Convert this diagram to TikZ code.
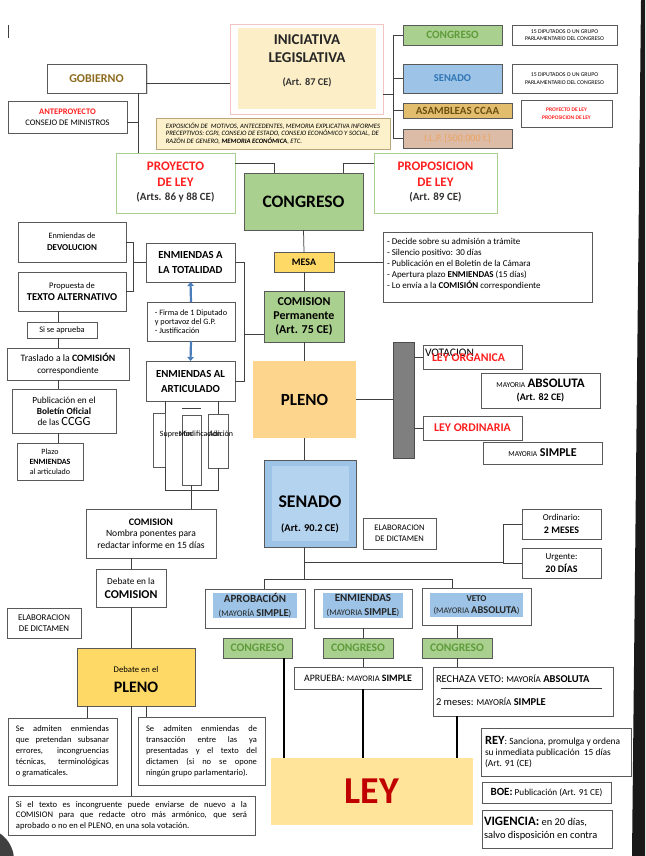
\documentclass[tikz,border=0pt]{standalone}
\usepackage{fontspec}
\setmainfont{Carlito}
\usetikzlibrary{calc,arrows.meta,shadows}
\definecolor{grnF}{HTML}{A9D08E}
\definecolor{grnT}{HTML}{5E9B3A}
\definecolor{grnB}{HTML}{A9D08E}
\definecolor{bluF}{HTML}{9DC3E6}
\definecolor{bluIn}{HTML}{B4D3EE}
\definecolor{bluT}{HTML}{2E75B6}
\definecolor{asmF}{HTML}{E3BD6E}
\definecolor{asmT}{HTML}{6B4F10}
\definecolor{ilpF}{HTML}{DCBCA6}
\definecolor{ilpT}{HTML}{EDA35F}
\definecolor{wheatF}{HTML}{FCEEC6}
\definecolor{pinkB}{HTML}{F2C4C4}
\definecolor{expoF}{HTML}{FDF1CB}
\definecolor{expoB}{HTML}{BBA57A}
\definecolor{redT}{HTML}{FF1F1F}
\definecolor{goldT}{HTML}{8C6B1E}
\definecolor{mesaF}{HTML}{FFD966}
\definecolor{plenoF}{HTML}{FED58D}
\definecolor{leyF}{HTML}{FFE49A}
\definecolor{leyT}{HTML}{C00000}
\definecolor{barF}{HTML}{7F7F7F}
\definecolor{bdr}{HTML}{595959}
\definecolor{lnc}{HTML}{404040}
\definecolor{arrB}{HTML}{4A7EBB}
\newcommand{\fsz}[2]{\fontsize{#1}{#2}\selectfont}
\newcommand{\bx}[7]{\node[box,#6,minimum width={(#4)-(#2)},minimum height={(#5)-(#3)}] (#1) at ({((#2)+(#4))/2},{((#3)+(#5))/2}) {#7};}
\begin{document}
\begin{tikzpicture}[x=1pt,y=-1pt,
  box/.style={draw=bdr,line width=0.75pt,fill=white,inner sep=0pt,outer sep=0pt,align=center},
  txt/.style={inner sep=0pt,outer sep=0pt,align=center},
  conn/.style={draw=lnc,line width=0.75pt},
  thk/.style={draw=black,line width=1.7pt},
  barr/.style={draw=arrB,line width=2.2pt,-{Triangle[length=4pt,width=6.5pt]}}]
\fill[white] (0,0) rectangle (645,856);
\useasboundingbox (0,0) rectangle (645,856);
% page edge decorations
\fill[black!90] (641,0) -- (645,0) -- (645,856) -- (632,856) -- cycle;
\fill[black!75] (-18,860) circle (32);
\draw[lnc,line width=0.8pt] (8,25) -- (8,38);

% ---------- top ----------
\bx{ini}{230}{24}{383}{114}{draw=pinkB}{}
\bx{inii}{238}{28}{376}{109}{draw=none,fill=wheatF}{}
\node[txt,font=\bfseries\fsz{15}{17},text=black!85] (ini1) at (307,40) {INICIATIVA};
\node[txt,font=\bfseries\fsz{15}{17},text=black!85] (ini2) at (307,58) {LEGISLATIVA};
\node[txt,font=\bfseries\fsz{10.3}{11},text=black!80] (ini3) at (307,82) {(Art. 87 CE)};

\bx{gob}{47}{64}{146}{93}{drop shadow={shadow xshift=1.5pt,shadow yshift=-1.5pt,opacity=0.3},font=\bfseries\fsz{12}{14},text=goldT}{GOBIERNO}
\bx{ante}{8}{101}{127}{133}{font=\fsz{8.5}{11}}{{\bfseries\color{redT}ANTEPROYECTO}\\CONSEJO DE MINISTROS}
\bx{expo}{156}{118}{390}{149}{draw=expoB,fill=expoF,font=\itshape\fsz{6.7}{7.7},align=left}{EXPOSICIÓN DE\ \ MOTIVOS, ANTECEDENTES, MEMORIA EXPLICATIVA INFORMES\\PRECEPTIVOS: CGPJ, CONSEJO DE ESTADO, CONSEJO ECONÓMICO Y SOCIAL, DE\\RAZÓN DE GENERO, \textbf{MEMORIA ECONÓMICA}, ETC.}

\bx{proy}{116}{153}{235}{213}{draw=grnB}{}
\node[txt,font=\bfseries\fsz{13}{15},text=redT] (proy1) at (175.5,166) {PROYECTO};
\node[txt,font=\bfseries\fsz{13}{15},text=redT] (proy2) at (175.5,182) {DE LEY};
\node[txt,font=\bfseries\fsz{11}{12},text=black!80] (proy3) at (175.5,197) {(Arts. 86 y 88 CE)};
\bx{propo}{374}{153}{497}{213}{draw=grnB}{}
\node[txt,font=\bfseries\fsz{13}{15},text=redT] (propo1) at (435.5,166) {PROPOSICION};
\node[txt,font=\bfseries\fsz{13}{15},text=redT] (propo2) at (435.5,182) {DE LEY};
\node[txt,font=\bfseries\fsz{11}{12},text=black!80] (propo3) at (435.5,197) {(Art. 89 CE)};
\bx{cong}{244}{173}{363}{230}{fill=grnF,font=\bfseries\fsz{17.5}{20}}{CONGRESO}

\bx{cg}{403}{25}{502}{45}{fill=grnF,font=\bfseries\fsz{11.2}{12},text=grnT}{CONGRESO}
\bx{sn}{403}{64}{502}{93}{fill=bluF,font=\bfseries\fsz{10.5}{12},text=bluT}{SENADO}
\bx{asm}{403}{103}{512}{118}{fill=asmF,font=\bfseries\fsz{11}{12},text=asmT}{ASAMBLEAS CCAA}
\bx{ilp}{403}{129}{512}{148}{fill=ilpF,font=\fsz{10}{12},text=ilpT}{I.L.P. [500.000 f.]}
\bx{i1}{512}{25}{617}{45}{font=\fsz{5.8}{7.5}}{15 DIPUTADOS O UN GRUPO\\PARLAMENTARIO DEL CONGRESO}
\bx{i2}{512}{64}{617}{93}{font=\fsz{5.8}{7.5}}{15 DIPUTADOS O UN GRUPO\\PARLAMENTARIO DEL CONGRESO}
\bx{i3}{521}{100}{612}{127}{font=\bfseries\fsz{5.5}{7.5},text=redT}{PROYECTO DE LEY\\PROPOSICION DE LEY}

\coordinate (gv) at ([xshift=-8pt]gob.south east);
\coordinate (ge) at ([yshift=-4.5pt]gob.east);
\draw[conn] (ge) -- (ge -| ini.west);
\draw[conn] (gv) -- (gv |- proy.north);
\coordinate (ae) at ([yshift=-5pt]ante.east);
\draw[conn] (ae) -- (ae -| gv);
\draw[conn] ([yshift=-10pt]proy.north east) -| ([xshift=30pt]cong.north west);
\draw[conn] ([yshift=-10pt]propo.north west) -| ([xshift=-20pt]cong.north east);
\coordinate (rs) at ($(ini.east)+(10,25)$);
\draw[conn] ([yshift=-25pt]ini.east) -- (rs);
\draw[conn] (cg.west -| rs) -- (ilp.west -| rs);
\draw[conn] (cg.west -| rs) -- (cg.west);
\draw[conn] (sn.west -| rs) -- (sn.west);
\draw[conn] (asm.west -| rs) -- (asm.west);
\draw[conn] (ilp.west -| rs) -- (ilp.west);

% ---------- left column ----------
\bx{dev}{18}{222}{126}{262}{font=\fsz{8.2}{12}}{Enmiendas de\\\textbf{\fsz{9}{12}DEVOLUCION}}
\bx{txa}{18}{272}{126}{311}{font=\fsz{8.5}{12.5}}{Propuesta de\\\textbf{\fsz{10.5}{12.5}TEXTO ALTERNATIVO}}
\bx{sap}{27}{322}{97}{338}{font=\fsz{8.4}{9}}{Si se aprueba}
\bx{tras}{7}{348}{129}{380}{font=\fsz{9.8}{11.5}}{Traslado a la \textbf{COMISIÓN}\\{\fsz{9.2}{11.5}correspondiente}}
\bx{pub}{12}{389}{116}{433}{font=\fsz{9.3}{11}}{Publicación en el\\\textbf{Boletín Oficial}\\de las {\fsz{12.5}{11}CCGG}}
\bx{plz}{17}{443}{83}{480}{font=\fsz{8}{10}}{Plazo\\\textbf{ENMIENDAS}\\al articulado}
\coordinate (lc) at ([xshift=-4pt]sap.north);
\draw[conn] (txa.south -| lc) -- (sap.north -| lc);
\draw[conn] (sap.south -| lc) -- (tras.north -| lc);
\draw[conn] (tras.south -| lc) -- (pub.north -| lc);
\draw[conn] (pub.south -| lc) -- (plz.north -| lc);

% ---------- enmiendas column ----------
\bx{ea}{146}{243}{235}{282}{font=\bfseries\fsz{10.8}{15}}{ENMIENDAS A\\LA TOTALIDAD}
\bx{fir}{147}{302}{235}{341}{font=\fsz{8.2}{8.7},align=left}{- Firma de 1 Diputado\\y portavoz del G.P.\\- Justificación}
\bx{eal}{146}{361}{235}{401}{font=\bfseries\fsz{10.8}{15}}{ENMIENDAS AL\\ARTICULADO}
\draw[barr] (fir.north) -- (ea.south);
\draw[barr] (fir.south) -- (eal.north);
\coordinate (lb) at ($(dev.east)+(7,0)$);
\draw[conn] (dev.east) -- (lb) |- (txa.east);
\draw[conn] (ea.west) -- (ea.west -| lb);
\coordinate (brk) at ($(ea.east)+(9,0)$);
\draw[conn] (ea.east) -- (brk) |- (eal.east);

\bx{sup}{153}{413}{165}{467}{}{}
\bx{mod}{182}{415}{201}{485}{}{}
\bx{adi}{208}{414}{228}{468}{}{}
\node[txt,font=\fsz{8}{8}] (lsup) at (176,434) {Supresión};
\node[txt,font=\fsz{8}{8}] (lmod) at (200,434) {Modificación};
\node[txt,font=\fsz{8}{8}] (ladi) at (221,434) {Adición};
\draw[conn] (sup.north east) -- (sup.north east |- eal.south);
\draw[conn] (adi.north) -- (adi.north |- eal.south);
\draw[conn] ([yshift=7pt]mod.north west) -- ([yshift=7pt]mod.north east);
\draw[conn] (sup.south east) -- ++(0,23) -| (adi.south);

\bx{com}{86}{509}{216}{558}{font=\fsz{9.6}{11.5}}{\textbf{\fsz{10}{11.5}COMISION}\\Nombra ponentes para\\redactar informe en 15 días}
\draw[conn] (mod.south) -- (mod.south |- com.north);
\bx{dcom}{96}{569}{166}{607}{font=\fsz{9.3}{14}}{Debate en la\\\textbf{\fsz{12}{14}COMISION}}
\draw[conn] (dcom.north) -- (dcom.north |- com.south);
\bx{el1}{7}{608}{81}{638}{font=\fsz{8.8}{11}}{ELABORACION\\DE DICTAMEN}
\bx{dpl}{77}{648}{195}{706}{fill=mesaF}{}
\node[txt,font=\fsz{8.7}{9}] (dpl1) at (136,670) {Debate en el};
\node[txt,font=\bfseries\fsz{16}{18}] (dpl2) at (136,687) {PLENO};
\draw[conn] (dcom.south) -- (dcom.south |- dpl.north);

\bx{pa}{8}{718}{117}{785}{font=\fsz{8.5}{11},align=left}{\makebox[93pt][s]{Se admiten enmiendas}\\\makebox[93pt][s]{que pretendan subsanar}\\\makebox[93pt][s]{errores, incongruencias}\\\makebox[93pt][s]{técnicas, terminológicas}\\o gramaticales.}
\bx{pb}{138}{717}{265}{785}{font=\fsz{8.5}{11},align=left}{\makebox[111pt][s]{Se admiten enmiendas de}\\\makebox[111pt][s]{transacción entre las ya}\\\makebox[111pt][s]{presentadas y el texto del}\\\makebox[111pt][s]{dictamen (si no se opone}\\ningún grupo parlamentario).}
\bx{pc}{8}{796}{255}{835}{font=\fsz{8.6}{10.7},align=left}{\makebox[231pt][s]{Si el texto es incongruente puede enviarse de nuevo a la}\\\makebox[231pt][s]{COMISION para que redacte otro más armónico, que será}\\aprobado o no en el PLENO, en una sola votación.}
\coordinate (pa1) at ([xshift=79pt]pa.north west);
\coordinate (pb1) at ([xshift=8pt]pb.north west);
\draw[conn] (pa1) -- (pa1 |- dpl.south);
\draw[conn] (pb1) -- (pb1 |- dpl.south);
\draw[conn] (pc.north) -- (pc.north |- dpl.south);

% ---------- main column ----------
\bx{mesa}{274}{252}{334}{272}{fill=mesaF,font=\bfseries\fsz{10}{12}}{MESA}
\bx{inf}{383}{232}{592}{302}{}{}
\node[txt,anchor=west,align=left,font=\fsz{9}{11}] (inft) at ([xshift=4pt,yshift=3pt]inf.west) {- Decide sobre su admisión a trámite\\- Silencio positivo: 30 días\\- Publicación en el Boletín de la Cámara\\- Apertura plazo \textbf{ENMIENDAS} (15 días)\\- Lo envía a la \textbf{COMISIÓN} correspondiente};
\bx{comp}{264}{291}{344}{342}{fill=grnF,font=\bfseries\fsz{12}{14}}{COMISION\\Permanente\\(Art. 75 CE)}
\bx{pleno}{253}{361}{356}{438}{draw=none,fill=plenoF,font=\bfseries\fsz{17}{20}}{PLENO}
\draw[conn] (cong.south) -- (mesa.north);
\draw[conn] (mesa.east) -- (mesa.east -| inf.west);
\draw[conn] (mesa.south) -- (comp.north);
\draw[conn] (comp.south) -- (comp.south |- pleno.north);
\draw[conn] ([yshift=-18pt]comp.west) -- ([yshift=-18pt]comp.west -| brk);

\bx{gbar}{393}{342}{414}{458}{fill=barF,draw=black!70}{}
\bx{lo}{423}{345}{522}{369}{}{}
\node[txt,anchor=west,font=\fsz{11.5}{12}] (vot) at (425,353) {VOTACION};
\node[txt,anchor=west,font=\bfseries\fsz{11.8}{12},text=redT] (lot) at (432,358) {LEY ORGANICA};
\bx{mabs}{481}{373}{600}{408}{font=\bfseries\fsz{10}{13}}{{\mdseries\fsz{7.5}{13}MAYORIA} {\fsz{13}{13}ABSOLUTA}\\(Art. 82 CE)}
\bx{lord}{423}{416}{522}{440}{font=\bfseries\fsz{11.8}{12},text=redT}{LEY ORDINARIA}
\bx{msim}{483}{442}{602}{464}{font=\bfseries\fsz{12}{12}}{{\mdseries\fsz{7.5}{12}MAYORIA} SIMPLE}
\draw[conn] (pleno.east) -- (pleno.east -| gbar.west);
\draw[conn] (lo.west -| gbar.east) -- (lo.west);
\draw[conn] (lord.west -| gbar.east) -- (lord.west);

% ---------- senado ----------
\bx{sen}{264}{460}{356}{547}{fill=bluF}{}
\bx{seni}{272}{466}{349}{541}{draw=none,fill=bluIn}{}
\node[txt,font=\bfseries\fsz{17.8}{20}] (sent) at (310,502) {SENADO};
\node[txt,font=\bfseries\fsz{10.4}{11}] (sena) at (310,528) {(Art. 90.2 CE)};
\draw[conn] (pleno.south) -- (pleno.south |- sen.north);
\bx{el2}{363}{518}{436}{549}{font=\fsz{8.5}{11}}{ELABORACION\\DE DICTAMEN}
\bx{ord}{522}{509}{601}{539}{font=\fsz{9}{13}}{Ordinario:\\\textbf{\fsz{10}{13}2 MESES}}
\bx{urg}{522}{548}{601}{578}{font=\fsz{9}{13}}{Urgente:\\\textbf{\fsz{10}{13}20 DÍAS}}
\coordinate (rb) at ($(ord.west)+(-19,0)$);
\draw[conn] (ord.west) -- (rb) |- (urg.west);
\coordinate (sv) at (sen.south -| pleno.south);
\coordinate (sj) at ($(sv)+(0,15)$);
\coordinate (dj) at ($(sv)+(0,32)$);
\draw[conn] (sv) -- (dj);
\draw[conn] (sj) -- (sj -| rb);

\bx{apr}{205}{589}{305}{628}{}{}
\bx{apri}{213}{593}{297}{618}{draw=none,fill=bluF,font=\fsz{11}{13.5},text=black!85}{\textbf{APROBACIÓN}\\{\fsz{8.6}{13.5}(MAYORÍA \textbf{\fsz{10.6}{13.5}SIMPLE})}}
\bx{enm}{314}{589}{412}{628}{}{}
\bx{enmi}{323}{593}{403}{618}{draw=none,fill=bluF,font=\fsz{11}{13.5},text=black!85}{\textbf{ENMIENDAS}\\{\fsz{8.6}{13.5}(MAYORIA \textbf{\fsz{10.6}{13.5}SIMPLE})}}
\bx{veto}{422}{588}{531}{625}{}{}
\bx{vetoi}{430}{593}{523}{617}{draw=none,fill=bluF,font=\fsz{9}{12.5},text=black!85}{\textbf{VETO}\\{\fsz{8.6}{12.5}(MAYORIA \textbf{\fsz{10.4}{12.5}ABSOLUTA})}}
\coordinate (vx) at ([xshift=30pt]veto.north west);
\draw[conn] (apr.north -| sen.west) |- (dj -| vx) -- (vx);

\bx{c1}{223}{638}{292}{658}{fill=grnF,font=\bfseries\fsz{11.5}{12},text=grnT}{CONGRESO}
\bx{c2}{323}{638}{393}{658}{fill=grnF,font=\bfseries\fsz{11.5}{12},text=grnT}{CONGRESO}
\bx{c3}{422}{638}{492}{658}{fill=grnF,font=\bfseries\fsz{11.5}{12},text=grnT}{CONGRESO}
\bx{apru}{294}{667}{422}{689}{font=\fsz{9.8}{11}}{APRUEBA: {\fsz{8.5}{11}MAYORIA} \textbf{SIMPLE}}
\bx{rech}{433}{667}{613}{716}{}{}
\node[txt,anchor=west,font=\fsz{10.5}{11}] (rech1) at (436,679) {RECHAZA VETO: {\fsz{9}{11}MAYORÍA} \textbf{ABSOLUTA}};
\draw[black!75,line width=0.8pt] ([xshift=8pt,yshift=-21pt]rech.north west) -- ([xshift=-11pt,yshift=-21pt]rech.north east);
\node[txt,anchor=west,font=\fsz{10.5}{11}] (rech2) at (436,702) {2 meses: {\fsz{9}{11}MAYORÍA} \textbf{SIMPLE}};

\draw[conn] (enm.south) -- (enm.south |- c2.north);
\draw[conn] (enm.south |- c2.south) -- (enm.south |- apru.north);
\draw[conn] (c3.north |- veto.south) -- (c3.north);
\draw[conn] (c3.south) -- (c3.south |- rech.north);

\bx{ley}{271}{758}{473}{825}{draw=none,fill=leyF,font=\bfseries\fsz{38}{40},text=leyT}{LEY}
\coordinate (c1d) at ([xshift=-8pt]c1.south east);
\draw[thk] (c1d) -- (c1d |- ley.north);
\draw[thk] (enm.south |- apru.south) -- (enm.south |- ley.north);
\draw[thk] (c3.south |- rech.south) -- (c3.south |- ley.north);

\bx{rey}{481}{728}{631}{776}{}{}
\node[txt,anchor=west,align=left,font=\fsz{9.4}{10.8}] (reyt) at ([xshift=4pt]rey.west) {\textbf{\fsz{12.5}{10.8}REY}: Sanciona, promulga y ordena\\su inmediata publicación\ \ 15 días\\(Art. 91 (CE)};
\bx{boe}{482}{782}{611}{803}{font=\fsz{9.2}{12}}{\textbf{\fsz{11}{12}BOE:} Publicación (Art. 91 CE)}
\bx{vig}{482}{810}{612}{848}{}{}
\node[txt,anchor=west,align=left,font=\fsz{10.4}{13}] (vigt) at ([xshift=2pt]vig.west) {\textbf{\fsz{12.8}{13}VIGENCIA:} en 20 días,\\salvo disposición en contra};
\end{tikzpicture}
\end{document}
